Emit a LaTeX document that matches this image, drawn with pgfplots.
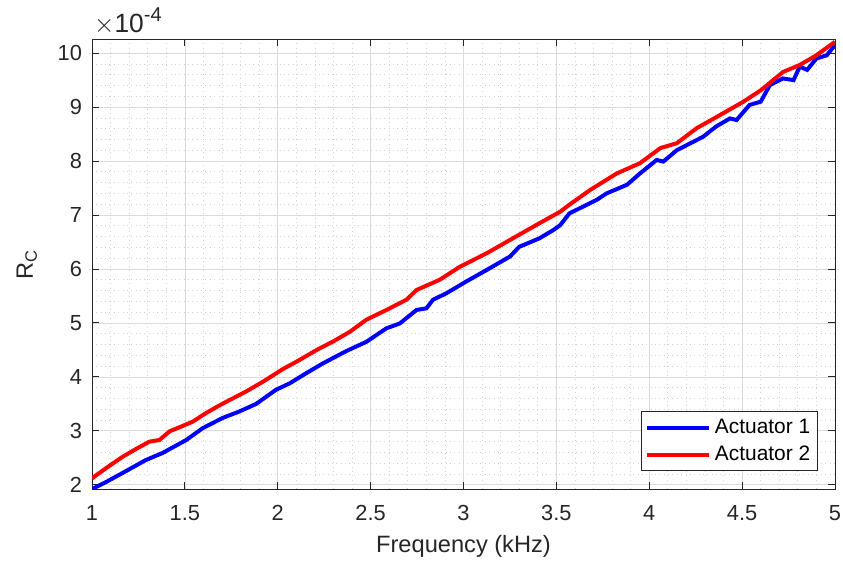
\documentclass[border=0pt]{standalone}
\usepackage{pgfplots}
\pgfplotsset{compat=1.18}
\usepackage{fontspec}
\setmainfont{Liberation Sans}
\definecolor{axgray}{RGB}{38,38,38}
\definecolor{mblue}{RGB}{0,0,255}
\definecolor{mred}{RGB}{255,0,0}
\begin{document}
\begin{tikzpicture}
\useasboundingbox (-50.6pt,-40.7pt) rectangle (413pt,269pt);
\begin{axis}[
  name=ax,
  scale only axis,
  width=408.6pt, height=247.5pt,
  xmin=1, xmax=5, ymin=1.92, ymax=10.26,
  xtick={1,1.5,...,5}, ytick={2,3,...,10},
  minor x tick num=4, minor y tick num=4,
  scaled ticks=false,
  /pgf/number format/assume math mode=true,
  tick label style={font=\fontsize{12}{14}\selectfont, color=axgray},
  xticklabel style={yshift=-5.5pt},
  yticklabel style={xshift=-2pt},
  tick pos=both, tick align=inside,
  major tick length=3.8pt, minor tick length=0pt,
  every tick/.style={axgray, line width=0.5pt},
  axis line style={axgray, line width=0.5pt},
  grid=both,
  major grid style={black!14, line width=0.4pt},
  minor grid style={black!17, dotted, line width=0.4pt},
  xlabel={Frequency (kHz)},
  ylabel={R\textsubscript{C}},
  label style={font=\fontsize{13}{15}\selectfont, color=axgray},
  xlabel style={at={(axis description cs:0.5,-0.14)}, anchor=base},
  ylabel style={at={(axis description cs:-0.0795,0.5)}, anchor=base},
  legend style={at={(rel axis cs:1,0)}, anchor=south east, xshift=-9.35pt, yshift=9.9pt,
    draw=axgray, line width=0.5pt, fill=white, font=\fontsize{11.5}{13}\selectfont,
    inner xsep=2pt, inner ysep=2pt, row sep=1.5pt},
  legend cell align=left,
  legend image code/.code={\draw[#1] (0pt,0pt) -- (34pt,0pt);},
]
\addplot[mblue, line width=2.2pt] coordinates {
(1.00,1.92) (1.08,2.06) (1.165,2.22) (1.29,2.46) (1.38,2.59) (1.507,2.83)
(1.596,3.05) (1.704,3.24) (1.794,3.36) (1.884,3.50) (1.99,3.76) (2.064,3.88)
(2.154,4.07) (2.243,4.25) (2.37,4.48) (2.477,4.65) (2.585,4.90) (2.657,4.99)
(2.747,5.24) (2.80,5.27) (2.836,5.43) (2.908,5.55) (3.016,5.77) (3.124,5.98)
(3.25,6.23) (3.30,6.41) (3.41,6.57) (3.483,6.72) (3.52,6.81) (3.57,7.03)
(3.717,7.28) (3.77,7.40) (3.88,7.56) (3.95,7.77) (4.04,8.02) (4.076,7.99)
(4.148,8.20) (4.29,8.45) (4.36,8.64) (4.435,8.79) (4.47,8.76) (4.54,9.04)
(4.60,9.10) (4.65,9.41) (4.72,9.53) (4.777,9.50) (4.81,9.75) (4.85,9.69)
(4.90,9.90) (4.956,9.96) (5.00,10.15)
};
\addlegendentry{Actuator 1}
\addplot[mred, line width=2.2pt] coordinates {
(1.00,2.12) (1.08,2.32) (1.165,2.52) (1.24,2.67) (1.309,2.80) (1.363,2.83)
(1.417,2.99) (1.48,3.08) (1.542,3.17) (1.614,3.33) (1.68,3.46) (1.74,3.57)
(1.83,3.73) (1.92,3.91) (2.03,4.15) (2.10,4.28) (2.21,4.50) (2.30,4.66)
(2.39,4.84) (2.477,5.06) (2.585,5.24) (2.693,5.43) (2.747,5.61) (2.872,5.80)
(2.98,6.04) (3.124,6.29) (3.267,6.57) (3.41,6.85) (3.52,7.06) (3.57,7.19)
(3.68,7.46) (3.825,7.77) (3.95,7.96) (4.06,8.24) (4.148,8.33) (4.256,8.61)
(4.38,8.85) (4.507,9.10) (4.60,9.31) (4.72,9.65) (4.81,9.78) (4.90,9.96)
(5.00,10.21)
};
\addlegendentry{Actuator 2}
\end{axis}
\node[anchor=base west, color=axgray, inner sep=0pt, font=\fontsize{14.5}{16}\selectfont]
  at ([xshift=1pt,yshift=3.5pt]ax.north west)
  {$\times$10\raisebox{0.42em}{\fontsize{11}{12}\selectfont -4}};
\end{tikzpicture}
\end{document}
